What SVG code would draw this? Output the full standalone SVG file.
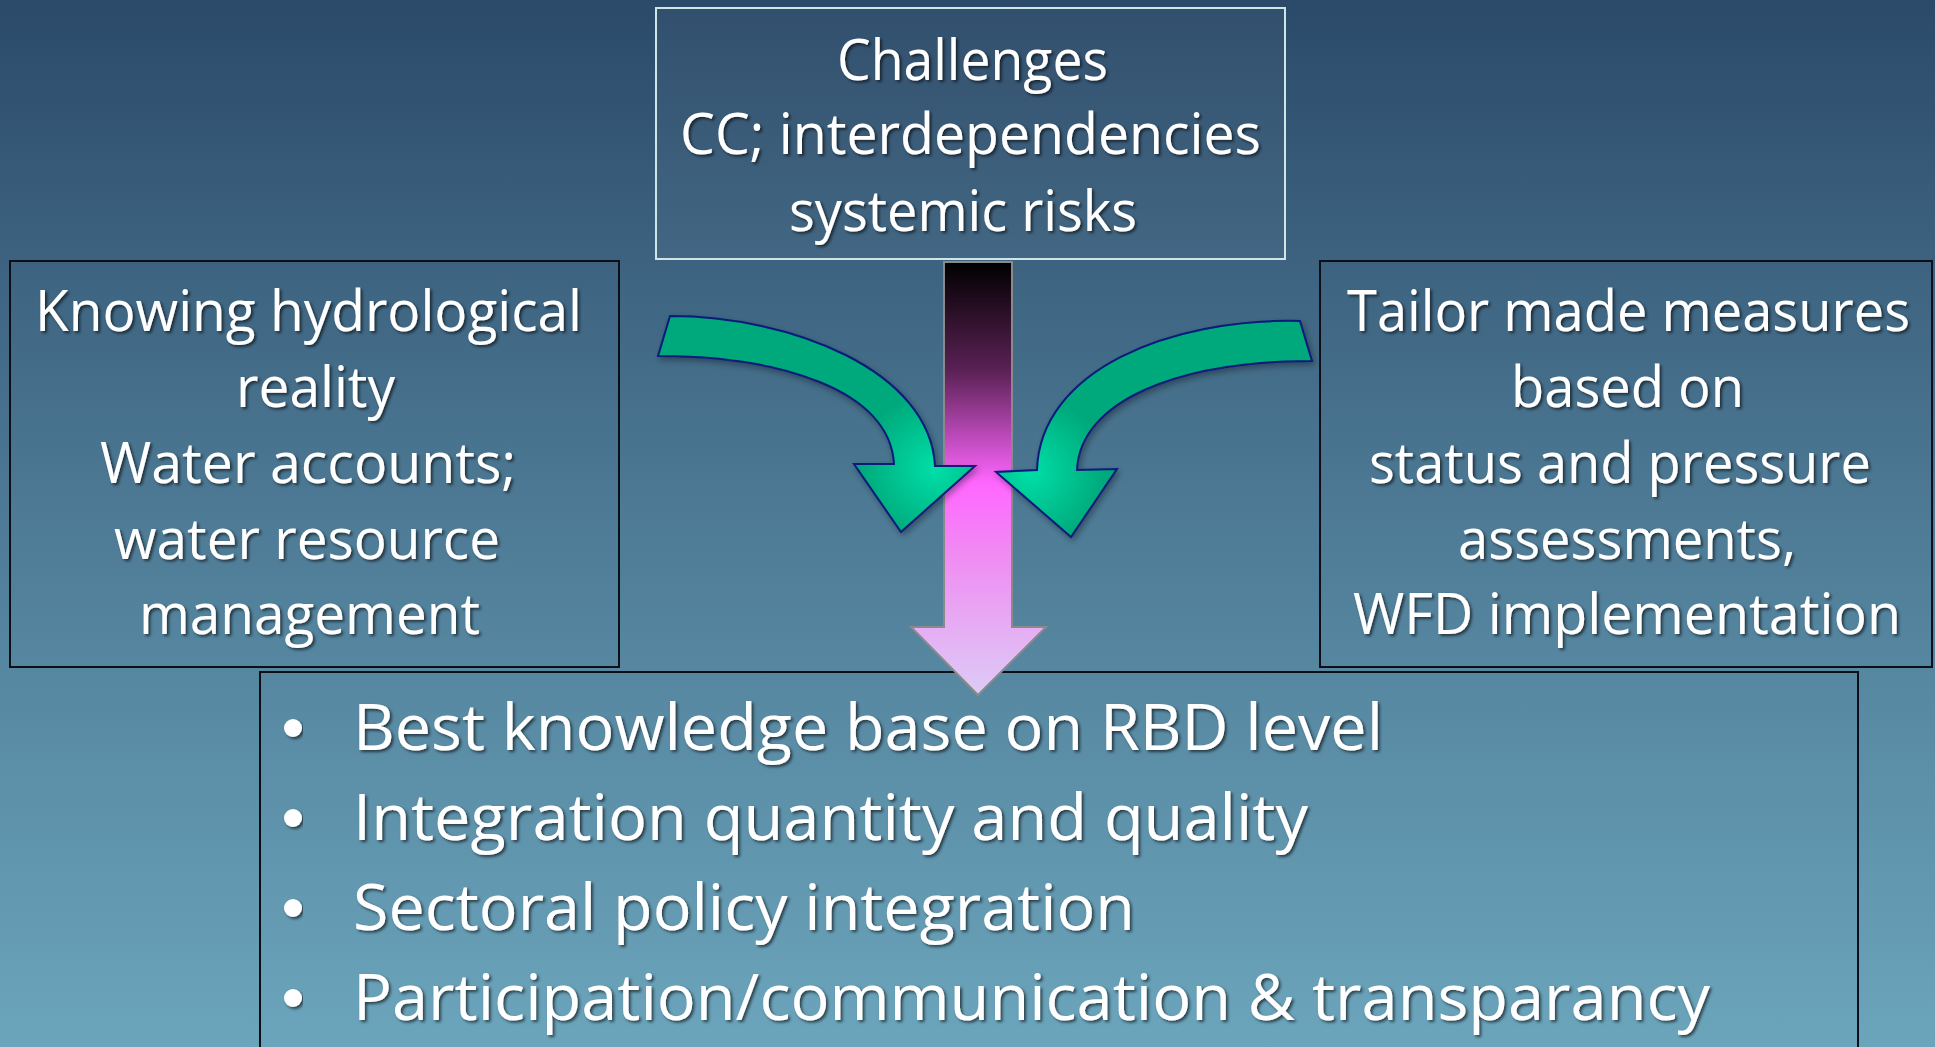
<svg xmlns="http://www.w3.org/2000/svg" width="1935" height="1047" viewBox="0 0 1935 1047">
  <defs>
    <linearGradient id="bg" x1="0" y1="0" x2="0" y2="1">
      <stop offset="0" stop-color="#2b4a69"/>
      <stop offset="0.5" stop-color="#4e7b96"/>
      <stop offset="1" stop-color="#6ba5bc"/>
    </linearGradient>
    <linearGradient id="shaft" gradientUnits="userSpaceOnUse" x1="0" y1="262" x2="0" y2="695">
      <stop offset="0" stop-color="#000000"/>
      <stop offset="0.25" stop-color="#5a2155"/>
      <stop offset="0.51" stop-color="#ff66ff"/>
      <stop offset="0.68" stop-color="#f08cf2"/>
      <stop offset="1" stop-color="#dcccf6"/>
    </linearGradient>
    <radialGradient id="gl" gradientUnits="userSpaceOnUse" cx="935" cy="468" r="75">
      <stop offset="0" stop-color="#00dfa8"/>
      <stop offset="1" stop-color="#00a97b"/>
    </radialGradient>
    <radialGradient id="gr" gradientUnits="userSpaceOnUse" cx="1030" cy="472" r="75">
      <stop offset="0" stop-color="#00dfa8"/>
      <stop offset="1" stop-color="#00a97b"/>
    </radialGradient>
    <filter id="ts" x="-5%" y="-20%" width="110%" height="140%">
      <feDropShadow dx="2" dy="2" stdDeviation="1.5" flood-color="#000" flood-opacity="0.6"/>
    </filter>
    <filter id="sh" x="-10%" y="-10%" width="120%" height="120%">
      <feDropShadow dx="2" dy="3" stdDeviation="3" flood-color="#000" flood-opacity="0.35"/>
    </filter>
  </defs>
  <style>
    .t { font-family: "Open Sans", "Liberation Sans", sans-serif; fill: #ffffff; filter: url(#ts); }
    .box { font-size: 56px; }
    .bul { font-size: 64px; }
    .frame { fill: none; stroke: #0a0f18; stroke-width: 2; }
    .green { stroke: #0a1a7a; stroke-width: 2; stroke-linejoin: miter; filter: url(#sh); }
  </style>

  <rect x="0" y="0" width="1935" height="1047" fill="url(#bg)"/>

  <g id="node-challenges">
    <rect x="656" y="8" width="629" height="251" fill="#ffffff" fill-opacity="0.03" stroke="#cfe6e6" stroke-width="2"/>
    <text class="t box" x="837" y="80" textLength="271" lengthAdjust="spacingAndGlyphs">Challenges</text>
    <text class="t box" x="680" y="154" textLength="581" lengthAdjust="spacingAndGlyphs">CC; interdependencies</text>
    <text class="t box" x="789" y="231" textLength="348" lengthAdjust="spacingAndGlyphs">systemic risks</text>
  </g>

  <g id="node-knowing">
    <rect class="frame" x="10" y="261" width="609" height="406"/>
    <text class="t box" x="35" y="331" textLength="547" lengthAdjust="spacingAndGlyphs">Knowing hydrological</text>
    <text class="t box" x="236" y="407" textLength="159" lengthAdjust="spacingAndGlyphs">reality</text>
    <text class="t box" x="100" y="483" textLength="416" lengthAdjust="spacingAndGlyphs">Water accounts;</text>
    <text class="t box" x="114" y="559" textLength="386" lengthAdjust="spacingAndGlyphs">water resource</text>
    <text class="t box" x="139" y="634" textLength="341" lengthAdjust="spacingAndGlyphs">management</text>
  </g>

  <g id="node-tailor">
    <rect class="frame" x="1320" y="261" width="612" height="406"/>
    <text class="t box" x="1347" y="331" textLength="563" lengthAdjust="spacingAndGlyphs">Tailor made measures</text>
    <text class="t box" x="1511" y="407" textLength="233" lengthAdjust="spacingAndGlyphs">based on</text>
    <text class="t box" x="1369" y="483" textLength="502" lengthAdjust="spacingAndGlyphs">status and pressure</text>
    <text class="t box" x="1458" y="559" textLength="338" lengthAdjust="spacingAndGlyphs">assessments,</text>
    <text class="t box" x="1353" y="634" textLength="548" lengthAdjust="spacingAndGlyphs">WFD implementation</text>
  </g>

  <g id="node-outcomes">
    <rect class="frame" x="260" y="672" width="1598" height="400"/>
    <g fill="#ffffff" filter="url(#ts)">
      <circle cx="293" cy="728" r="9"/>
      <circle cx="293" cy="818" r="9"/>
      <circle cx="293" cy="908" r="9"/>
      <circle cx="293" cy="998" r="9"/>
    </g>
    <text class="t bul" x="353" y="750" textLength="1030" lengthAdjust="spacingAndGlyphs">Best knowledge base on RBD level</text>
    <text class="t bul" x="353" y="840" textLength="955" lengthAdjust="spacingAndGlyphs">Integration quantity and quality</text>
    <text class="t bul" x="353" y="930" textLength="782" lengthAdjust="spacingAndGlyphs">Sectoral policy integration</text>
    <text class="t bul" x="353" y="1020" textLength="1357" lengthAdjust="spacingAndGlyphs">Participation/communication &amp; transparancy</text>
  </g>

  <g id="connectors">
    <path id="arrow-down" d="M944 262 L1012 262 L1012 627 L1046 627 L978 695 L911 627 L944 627 Z" fill="url(#shaft)" stroke="#8a8a8a" stroke-width="2"/>
    <path id="arrow-left" class="green" fill="url(#gl)" d="M670 316 C790 316 930 370 935 466 L975 466 L901 532 L854 464 L894 464 C890 390 780 356 658 356 Z"/>
    <path id="arrow-right" class="green" fill="url(#gr)" d="M1300 321 C1170 318 1040 370 1037 470 L996 472 L1071 537 L1117 469 L1077 470 C1080 400 1180 361 1312 361 Z"/>
  </g>
</svg>
